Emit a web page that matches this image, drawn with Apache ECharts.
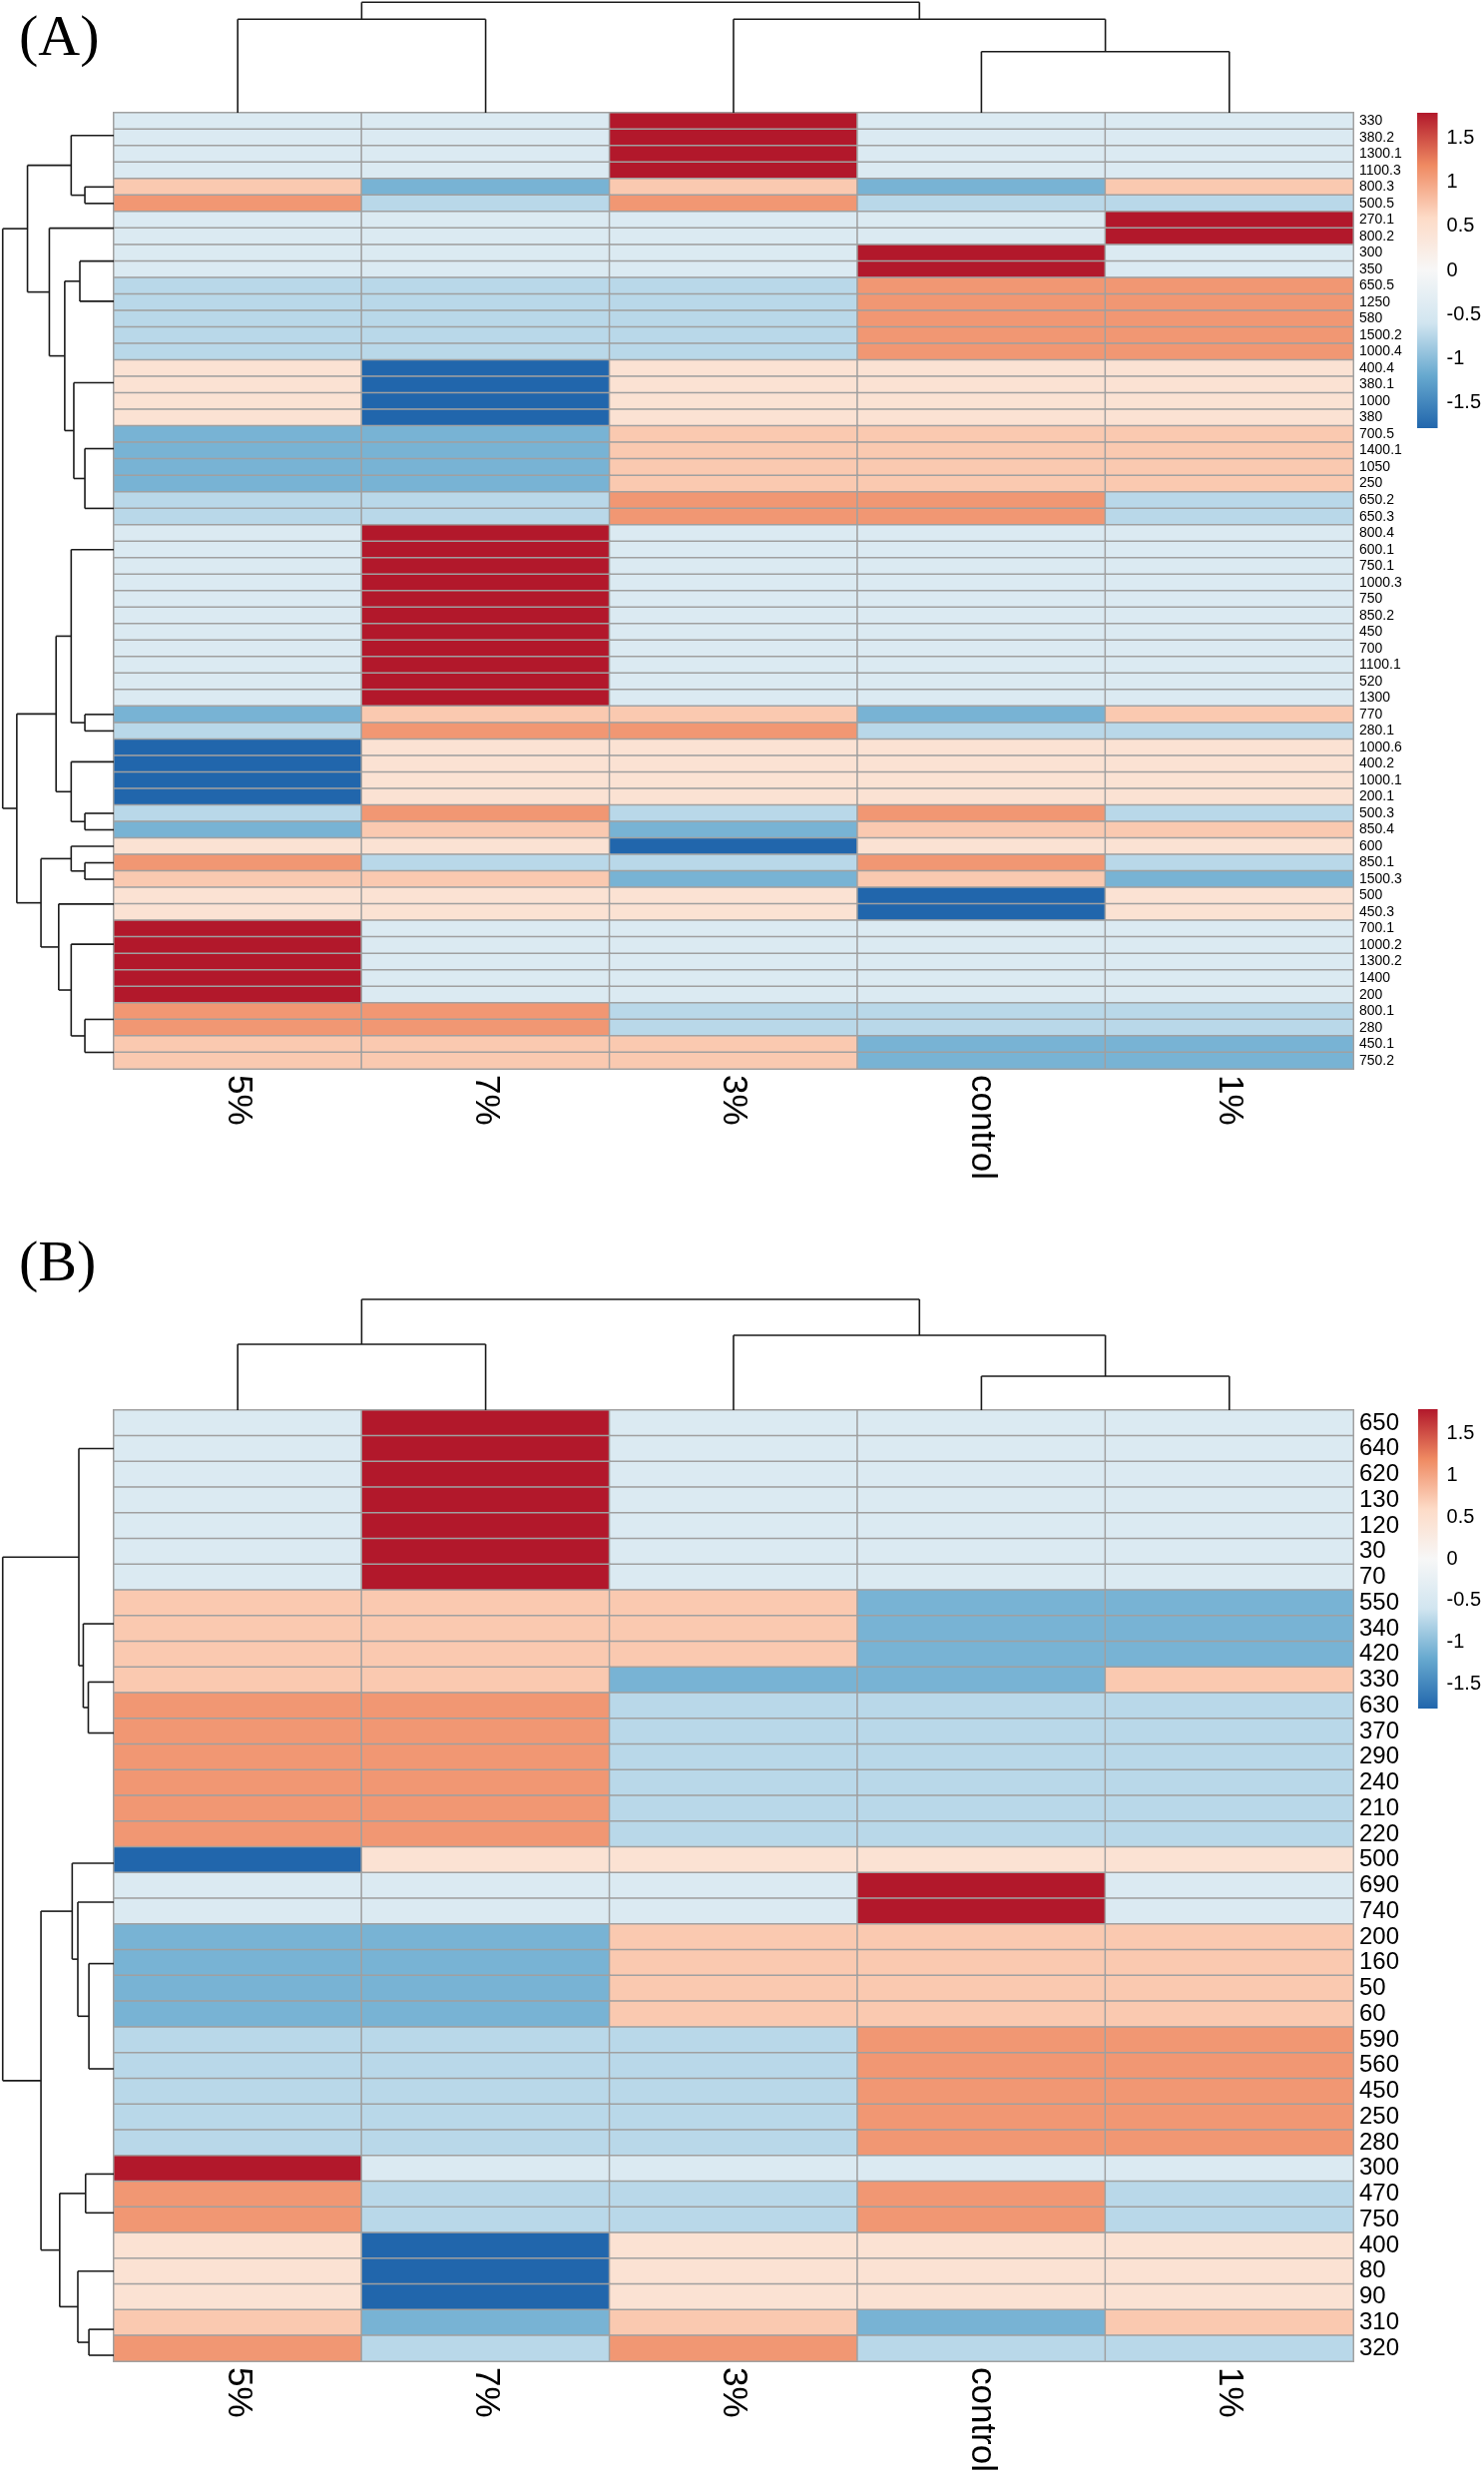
<!DOCTYPE html>
<html><head><meta charset="utf-8">
<script src="https://cdn.jsdelivr.net/npm/echarts@6/dist/echarts.min.js"></script>
<style>html,body{margin:0;padding:0;background:#fff}#c{width:1487px;height:2480px}</style>
</head><body><div id="c"></div>
<script>
// ---------------- data ----------------
const columnsA = ['5%', '7%', '3%', 'control', '1%'];
const columnsB = ['5%', '7%', '3%', 'control', '1%'];

const rowLabelsA = ['330','380.2','1300.1','1100.3','800.3','500.5','270.1','800.2','300','350','650.5','1250','580','1500.2','1000.4','400.4','380.1','1000','380','700.5','1400.1','1050','250','650.2','650.3','800.4','600.1','750.1','1000.3','750','850.2','450','700','1100.1','520','1300','770','280.1','1000.6','400.2','1000.1','200.1','500.3','850.4','600','850.1','1500.3','500','450.3','700.1','1000.2','1300.2','1400','200','800.1','280','450.1','750.2'];

const valuesA = [
[-0.447,-0.447,1.789,-0.447,-0.447],
[-0.447,-0.447,1.789,-0.447,-0.447],
[-0.447,-0.447,1.789,-0.447,-0.447],
[-0.447,-0.447,1.789,-0.447,-0.447],
[0.730,-1.095,0.730,-1.095,0.730],
[1.095,-0.730,1.095,-0.730,-0.730],
[-0.447,-0.447,-0.447,-0.447,1.789],
[-0.447,-0.447,-0.447,-0.447,1.789],
[-0.447,-0.447,-0.447,1.789,-0.447],
[-0.447,-0.447,-0.447,1.789,-0.447],
[-0.730,-0.730,-0.730,1.095,1.095],
[-0.730,-0.730,-0.730,1.095,1.095],
[-0.730,-0.730,-0.730,1.095,1.095],
[-0.730,-0.730,-0.730,1.095,1.095],
[-0.730,-0.730,-0.730,1.095,1.095],
[0.447,-1.789,0.447,0.447,0.447],
[0.447,-1.789,0.447,0.447,0.447],
[0.447,-1.789,0.447,0.447,0.447],
[0.447,-1.789,0.447,0.447,0.447],
[-1.095,-1.095,0.730,0.730,0.730],
[-1.095,-1.095,0.730,0.730,0.730],
[-1.095,-1.095,0.730,0.730,0.730],
[-1.095,-1.095,0.730,0.730,0.730],
[-0.730,-0.730,1.095,1.095,-0.730],
[-0.730,-0.730,1.095,1.095,-0.730],
[-0.447,1.789,-0.447,-0.447,-0.447],
[-0.447,1.789,-0.447,-0.447,-0.447],
[-0.447,1.789,-0.447,-0.447,-0.447],
[-0.447,1.789,-0.447,-0.447,-0.447],
[-0.447,1.789,-0.447,-0.447,-0.447],
[-0.447,1.789,-0.447,-0.447,-0.447],
[-0.447,1.789,-0.447,-0.447,-0.447],
[-0.447,1.789,-0.447,-0.447,-0.447],
[-0.447,1.789,-0.447,-0.447,-0.447],
[-0.447,1.789,-0.447,-0.447,-0.447],
[-0.447,1.789,-0.447,-0.447,-0.447],
[-1.095,0.730,0.730,-1.095,0.730],
[-0.730,1.095,1.095,-0.730,-0.730],
[-1.789,0.447,0.447,0.447,0.447],
[-1.789,0.447,0.447,0.447,0.447],
[-1.789,0.447,0.447,0.447,0.447],
[-1.789,0.447,0.447,0.447,0.447],
[-0.730,1.095,-0.730,1.095,-0.730],
[-1.095,0.730,-1.095,0.730,0.730],
[0.447,0.447,-1.789,0.447,0.447],
[1.095,-0.730,-0.730,1.095,-0.730],
[0.730,0.730,-1.095,0.730,-1.095],
[0.447,0.447,0.447,-1.789,0.447],
[0.447,0.447,0.447,-1.789,0.447],
[1.789,-0.447,-0.447,-0.447,-0.447],
[1.789,-0.447,-0.447,-0.447,-0.447],
[1.789,-0.447,-0.447,-0.447,-0.447],
[1.789,-0.447,-0.447,-0.447,-0.447],
[1.789,-0.447,-0.447,-0.447,-0.447],
[1.095,1.095,-0.730,-0.730,-0.730],
[1.095,1.095,-0.730,-0.730,-0.730],
[0.730,0.730,0.730,-1.095,-1.095],
[0.730,0.730,0.730,-1.095,-1.095]
];

const rowLabelsB = ['650','640','620','130','120','30','70','550','340','420','330','630','370','290','240','210','220','500','690','740','200','160','50','60','590','560','450','250','280','300','470','750','400','80','90','310','320'];

const valuesB = [
[-0.447,1.789,-0.447,-0.447,-0.447],
[-0.447,1.789,-0.447,-0.447,-0.447],
[-0.447,1.789,-0.447,-0.447,-0.447],
[-0.447,1.789,-0.447,-0.447,-0.447],
[-0.447,1.789,-0.447,-0.447,-0.447],
[-0.447,1.789,-0.447,-0.447,-0.447],
[-0.447,1.789,-0.447,-0.447,-0.447],
[0.730,0.730,0.730,-1.095,-1.095],
[0.730,0.730,0.730,-1.095,-1.095],
[0.730,0.730,0.730,-1.095,-1.095],
[0.730,0.730,-1.095,-1.095,0.730],
[1.095,1.095,-0.730,-0.730,-0.730],
[1.095,1.095,-0.730,-0.730,-0.730],
[1.095,1.095,-0.730,-0.730,-0.730],
[1.095,1.095,-0.730,-0.730,-0.730],
[1.095,1.095,-0.730,-0.730,-0.730],
[1.095,1.095,-0.730,-0.730,-0.730],
[-1.789,0.447,0.447,0.447,0.447],
[-0.447,-0.447,-0.447,1.789,-0.447],
[-0.447,-0.447,-0.447,1.789,-0.447],
[-1.095,-1.095,0.730,0.730,0.730],
[-1.095,-1.095,0.730,0.730,0.730],
[-1.095,-1.095,0.730,0.730,0.730],
[-1.095,-1.095,0.730,0.730,0.730],
[-0.730,-0.730,-0.730,1.095,1.095],
[-0.730,-0.730,-0.730,1.095,1.095],
[-0.730,-0.730,-0.730,1.095,1.095],
[-0.730,-0.730,-0.730,1.095,1.095],
[-0.730,-0.730,-0.730,1.095,1.095],
[1.789,-0.447,-0.447,-0.447,-0.447],
[1.095,-0.730,-0.730,1.095,-0.730],
[1.095,-0.730,-0.730,1.095,-0.730],
[0.447,-1.789,0.447,0.447,0.447],
[0.447,-1.789,0.447,0.447,0.447],
[0.447,-1.789,0.447,0.447,0.447],
[0.730,-1.095,0.730,-1.095,0.730],
[1.095,-0.730,1.095,-0.730,-0.730]
];

const legendTicks = [-1.5, -1, -0.5, 0, 0.5, 1, 1.5];
const legendRange = [-1.789, 1.789];
const palette = ['#2166AC','#67A9CF','#D1E5F0','#F7F7F7','#FDDBC7','#EF8A62','#B2182B'];

// dendrograms: [mergeHeight, left, right]; leaf = row/column index; G(a,b) = identical rows a..b joined at height 0
function G(a, b) { return { g: [a, b] }; }
const rowTreeA = [110.3,
  [85.7,
    [42.3, G(0,3), [28.7, 4, 5]],
    [64.0, G(6,7), [48.7, [33.7, G(8,9), G(10,14)], [39.7, G(15,18), [28.7, G(19,22), G(23,24)]]]]],
  [96.3,
    [57.3, [42.3, G(25,35), [28.7, 36, 37]], [42.3, G(38,41), [28.7, 42, 43]]],
    [72.3, [42.3, 44, [28.7, 45, 46]], [54.7, G(47,48), [42.3, G(49,53), [28.7, G(54,55), G(56,57)]]]]]
];
const colTreeA = [110.7, [93.7, 0, 1], [93.7, 2, [61.3, 3, 4]]];
const rowTreeB = [110.3,
  [34.7, G(0,6), [30.3, G(7,9), [25.3, 10, G(11,16)]]],
  [72.3,
    [41.3, 17, [35.7, G(18,19), [24.7, G(20,23), G(24,28)]]],
    [53.7, [28.0, 29, G(30,31)], [35.7, G(32,34), [24.7, 35, 36]]]]
];
const colTreeB = [111.0, [66.0, 0, 1], [75.0, 2, [34.0, 3, 4]]];
const dendroDepth = 113;

// ---------------- build ----------------
function walk(node, segs) {
  if (typeof node === 'number') return { p: node + 0.5, h: 0 };
  if (node.g) {
    let p = node.g[1] + 0.5;
    for (let j = node.g[1] - 1; j >= node.g[0]; j--) p = (j + 0.5 + p) / 2;
    return { p: p, h: 0 };
  }
  const H = node[0];
  const l = walk(node[1], segs), r = walk(node[2], segs);
  segs.push([H, l.p, H, r.p]);
  if (H > l.h) segs.push([l.h, l.p, H, l.p]);
  if (H > r.h) segs.push([r.h, r.p, H, r.p]);
  return { p: (l.p + r.p) / 2, h: H };
}
function rowSegs(tree) { const s = []; walk(tree, s); return s; }
function colSegs(tree) { const s = []; walk(tree, s); return s.map(d => [d[1], d[0], d[3], d[2]]); }
function heatData(vals) {
  const out = [];
  vals.forEach((row, r) => row.forEach((v, c) => out.push([c, r, v])));
  return out;
}

const FONT = "'Liberation Sans', Arial, Helvetica, sans-serif";
const lineItem = function (params, api) {
  const a = api.coord([api.value(0), api.value(1)]);
  const b = api.coord([api.value(2), api.value(3)]);
  return { type: 'line', shape: { x1: a[0], y1: a[1], x2: b[0], y2: b[1] },
           style: { stroke: '#1a1a1a', lineWidth: 1.6 } };
};
const legendItem = function (params, api) {
  const a = api.coord([api.value(0), api.value(3)]);
  const b = api.coord([api.value(2), api.value(1)]);
  const stops = palette.slice().reverse().map((c, i, arr) => ({ offset: i / (arr.length - 1), color: c }));
  return { type: 'rect', shape: { x: a[0], y: a[1], width: b[0] - a[0], height: b[1] - a[1] },
           style: { fill: new echarts.graphic.LinearGradient(0, 0, 0, 1, stops) } };
};

const panels = [
  { cols: columnsA, rows: rowLabelsA, vals: valuesA, rowTree: rowTreeA, colTree: colTreeA,
    top: 113, height: 958, rowFont: 14, legTop: 113, legH: 316, legLeft: 1420, legW: 22 },
  { cols: columnsB, rows: rowLabelsB, vals: valuesB, rowTree: rowTreeB, colTree: colTreeB,
    top: 1413, height: 960, rowFont: 24, legTop: 1412, legH: 300, legLeft: 1421, legW: 21 }
];

const grid = [], xAxis = [], yAxis = [], series = [], heatIdx = [];
panels.forEach((P) => {
  const g0 = grid.length;
  // heatmap
  grid.push({ left: 114, top: P.top, width: 1242, height: P.height });
  xAxis.push({ type: 'category', gridIndex: g0, data: P.cols, position: 'bottom',
    axisLine: { show: false }, axisTick: { show: false }, splitLine: { show: false },
    axisLabel: { interval: 0, rotate: -90, fontSize: 35, margin: 6, color: '#000', fontFamily: FONT } });
  yAxis.push({ type: 'category', gridIndex: g0, data: P.rows, inverse: true, position: 'right',
    axisLine: { show: false }, axisTick: { show: false }, splitLine: { show: false },
    axisLabel: { interval: 0, fontSize: P.rowFont, margin: 6, color: '#000', fontFamily: FONT } });
  heatIdx.push(series.length);
  series.push({ type: 'heatmap', xAxisIndex: g0, yAxisIndex: g0, data: heatData(P.vals),
    itemStyle: { borderColor: '#a0a0a0', borderWidth: 1.5 }, emphasis: { disabled: true }, silent: true });
  // row dendrogram
  grid.push({ left: 0, top: P.top, width: 114, height: P.height });
  xAxis.push({ type: 'value', gridIndex: g0 + 1, min: 0, max: dendroDepth, inverse: true, show: false });
  yAxis.push({ type: 'value', gridIndex: g0 + 1, min: 0, max: P.rows.length, inverse: true, show: false });
  series.push({ type: 'custom', xAxisIndex: g0 + 1, yAxisIndex: g0 + 1, data: rowSegs(P.rowTree),
    encode: { x: [0, 2], y: [1, 3] }, renderItem: lineItem, silent: true });
  // column dendrogram
  grid.push({ left: 114, top: P.top - dendroDepth, width: 1242, height: dendroDepth });
  xAxis.push({ type: 'value', gridIndex: g0 + 2, min: 0, max: P.cols.length, show: false });
  yAxis.push({ type: 'value', gridIndex: g0 + 2, min: 0, max: dendroDepth, show: false });
  series.push({ type: 'custom', xAxisIndex: g0 + 2, yAxisIndex: g0 + 2, data: colSegs(P.colTree),
    encode: { x: [0, 2], y: [1, 3] }, renderItem: lineItem, silent: true });
  // colour legend
  grid.push({ left: P.legLeft, top: P.legTop, width: P.legW, height: P.legH });
  xAxis.push({ type: 'value', gridIndex: g0 + 3, min: 0, max: 1, show: false });
  yAxis.push({ type: 'value', gridIndex: g0 + 3, min: legendRange[0], max: legendRange[1], position: 'right',
    axisLine: { show: false }, axisTick: { show: false }, splitLine: { show: false },
    axisLabel: { customValues: legendTicks, fontSize: 20, margin: 9, color: '#000', fontFamily: FONT } });
  series.push({ type: 'custom', xAxisIndex: g0 + 3, yAxisIndex: g0 + 3,
    data: [[0, legendRange[0], 1, legendRange[1]]], encode: { x: [0, 2], y: [1, 3] },
    renderItem: legendItem, silent: true });
});

const chart = echarts.init(document.getElementById('c'), null, { renderer: 'canvas' });
chart.setOption({
  animation: false,
  backgroundColor: '#fff',
  title: [
    { text: '(A)', left: 14, top: 6, textStyle: { fontFamily: "'Liberation Serif', 'Times New Roman', serif", fontSize: 58, fontWeight: 'normal', color: '#000' } },
    { text: '(B)', left: 14, top: 1234, textStyle: { fontFamily: "'Liberation Serif', 'Times New Roman', serif", fontSize: 58, fontWeight: 'normal', color: '#000' } }
  ],
  grid: grid, xAxis: xAxis, yAxis: yAxis,
  visualMap: [{ type: 'continuous', show: false, seriesIndex: heatIdx, dimension: 2,
    min: legendRange[0], max: legendRange[1], inRange: { color: palette } }],
  series: series
});
</script>
</body></html>
